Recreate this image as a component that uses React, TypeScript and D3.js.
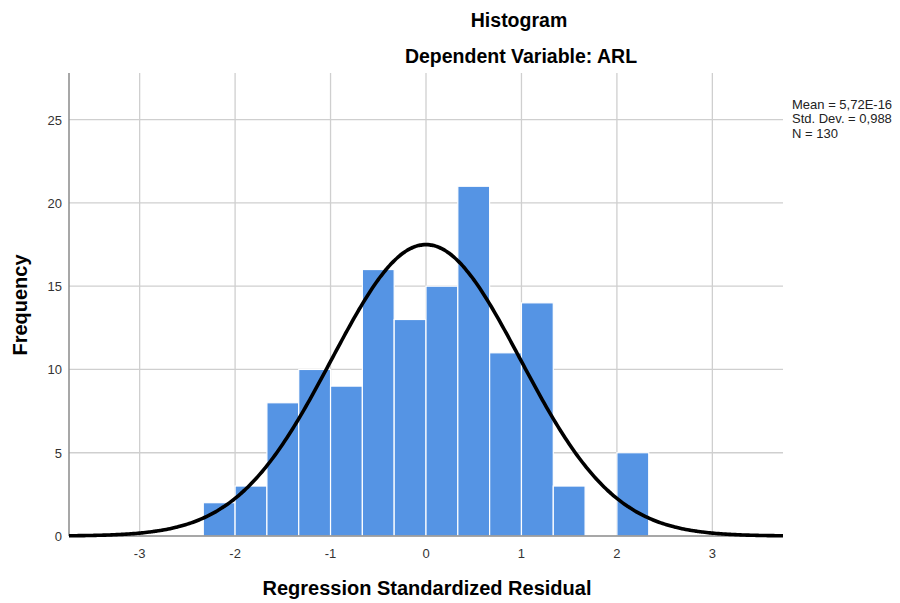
import React, { useEffect, useRef } from 'react';
import * as d3 from 'd3';

// Histogram data (bins of width 1/3, starting at -7/3)
const binStart = -7 / 3;
const binWidth = 1 / 3;
const counts = [2, 3, 8, 10, 9, 16, 13, 15, 21, 11, 14, 3, 0, 5];
const xTicks = [-3, -2, -1, 0, 1, 2, 3];
const yTicks = [0, 5, 10, 15, 20, 25];
const statLines = ['Mean = 5,72E-16', 'Std. Dev. = 0,988', 'N = 130'];
const mean = 5.72e-16;
const stdDev = 0.988;
const n = 130;

const App = () => {
  const svgRef = useRef<SVGSVGElement | null>(null);

  useEffect(() => {
    const svg = d3.select(svgRef.current);
    svg.selectAll('*').remove();

    const left = 69, right = 783, top = 73, bottom = 536;
    const font = '"Liberation Sans", Arial, sans-serif';

    const x = d3.scaleLinear().domain([-3.74, 3.74]).range([left, right]);
    const y = d3.scaleLinear().domain([0, 27.8]).range([bottom, top]);

    // grid lines
    svg.append('g')
      .selectAll('line')
      .data(yTicks.filter(d => d > 0))
      .join('line')
      .attr('x1', left).attr('x2', right)
      .attr('y1', d => y(d)).attr('y2', d => y(d))
      .attr('stroke', '#cfcfcf').attr('stroke-width', 1.3);

    svg.append('g')
      .selectAll('line')
      .data(xTicks)
      .join('line')
      .attr('x1', d => x(d)).attr('x2', d => x(d))
      .attr('y1', top).attr('y2', bottom)
      .attr('stroke', '#cfcfcf').attr('stroke-width', 1.3);

    // bars
    svg.append('g')
      .selectAll('rect')
      .data(counts)
      .join('rect')
      .attr('x', (d, i) => x(binStart + i * binWidth))
      .attr('width', x(binWidth) - x(0))
      .attr('y', d => y(d))
      .attr('height', d => y(0) - y(d))
      .attr('fill', '#5594e4')
      .attr('stroke', d => (d > 0 ? '#ffffff' : 'none'))
      .attr('stroke-width', 1.2);

    // axes lines
    svg.append('line')
      .attr('x1', left).attr('x2', left).attr('y1', top).attr('y2', bottom)
      .attr('stroke', '#8a8a8a').attr('stroke-width', 1.5);
    svg.append('line')
      .attr('x1', left).attr('x2', right).attr('y1', bottom).attr('y2', bottom)
      .attr('stroke', '#8a8a8a').attr('stroke-width', 1.5);

    // normal curve
    const pdf = (v: number) =>
      Math.exp(-0.5 * ((v - mean) / stdDev) ** 2) / (stdDev * Math.sqrt(2 * Math.PI));
    const samples = d3.range(-3.74, 3.7401, 0.02);
    const curve = d3.line<number>()
      .x(d => x(d))
      .y(d => y(n * binWidth * pdf(d)))
      .curve(d3.curveBasis);
    svg.append('path')
      .datum(samples)
      .attr('d', curve)
      .attr('fill', 'none')
      .attr('stroke', '#000')
      .attr('stroke-width', 3.6);

    // tick labels
    svg.append('g')
      .selectAll('text')
      .data(yTicks)
      .join('text')
      .attr('x', 62)
      .attr('y', d => y(d) + 5)
      .attr('text-anchor', 'end')
      .attr('font-family', font)
      .attr('font-size', 13)
      .attr('fill', '#333')
      .text(d => String(d));

    svg.append('g')
      .selectAll('text')
      .data(xTicks)
      .join('text')
      .attr('x', d => x(d))
      .attr('y', 558)
      .attr('text-anchor', 'middle')
      .attr('font-family', font)
      .attr('font-size', 13)
      .attr('fill', '#333')
      .text(d => String(d));

    // titles
    svg.append('text')
      .attr('x', 519).attr('y', 27)
      .attr('text-anchor', 'middle')
      .attr('font-family', font).attr('font-size', 19.5).attr('font-weight', 'bold')
      .text('Histogram');
    svg.append('text')
      .attr('x', 521).attr('y', 63)
      .attr('text-anchor', 'middle')
      .attr('font-family', font).attr('font-size', 19.5).attr('font-weight', 'bold')
      .text('Dependent Variable: ARL');
    svg.append('text')
      .attr('x', 427).attr('y', 595)
      .attr('text-anchor', 'middle')
      .attr('font-family', font).attr('font-size', 20).attr('font-weight', 'bold')
      .text('Regression Standardized Residual');
    svg.append('text')
      .attr('transform', 'translate(27,305) rotate(-90)')
      .attr('text-anchor', 'middle')
      .attr('font-family', font).attr('font-size', 20).attr('font-weight', 'bold')
      .text('Frequency');

    // stats legend
    svg.append('g')
      .selectAll('text')
      .data(statLines)
      .join('text')
      .attr('x', 792)
      .attr('y', (d, i) => 109 + i * 14.3)
      .attr('font-family', font)
      .attr('font-size', 13)
      .attr('fill', '#222')
      .text(d => d);
  }, []);

  return (
    <svg
      ref={svgRef}
      width={900}
      height={603}
      style={{ position: 'absolute', left: 0, top: 0, background: '#fff' }}
    />
  );
};

export default App;
